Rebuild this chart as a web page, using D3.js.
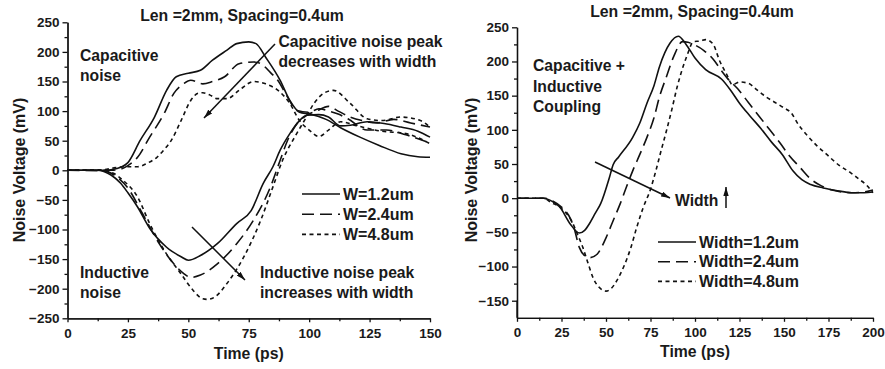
<!DOCTYPE html>
<html><head><meta charset="utf-8">
<script src="https://cdn.jsdelivr.net/npm/d3@7"></script>
<style>
body{margin:0;background:#fff;}
svg text{font-family:"Liberation Sans",Arial,sans-serif;font-weight:bold;fill:#1a1a1a;}
</style></head><body>
<svg id="c" width="885" height="369"></svg>
<script>
// ---------- Left chart data (Time ps, Noise mV) ----------
const leftXTicks = [0,25,50,75,100,125,150];
const leftYTicks = [-250,-200,-150,-100,-50,0,50,100,150,200,250];
const leftLegend = ["W=1.2um","W=2.4um","W=4.8um"];

const capW12_t = [0,15,18,22,25,30,36,41,45,50,55,60,66,70,75,78,82,88,92,96,100,107,113,121,129,138,145,150];
const capW12_v = [0,0,1,5,13,50,90,135,158,164,169,186,203,214,217,214,191,152,118,98,95,86,72,56,42,28,23,22];
const indW12_t = [0,12,15,18,22,25,29,34,41,47,50,55,62,70,76,81,85,88,92,96,99,104,108,113,117,124,131,138,145,150];
const indW12_v = [0,0,-2,-8,-22,-38,-62,-98,-130,-146,-152,-144,-124,-90,-68,-22,6,34,62,84,93,94,90,75,76,82,79,73,66,56];

const capW24_t = [0,18,22,25,29,34,40,44,48,51,56,60,65,71,77,80,84,87,91,95,100,104,108,112,116,124,132,140,150];
const capW24_v = [0,0,2,8,22,56,96,130,146,152,146,150,158,180,183,180,165,152,124,101,98,104,100,95,87,68,68,60,46];
const indW24_t = [0,15,20,25,31,38,44,48,51,55,62,70,77,84,88,91,95,99,103,108,112,117,122,128,135,142,150];
const indW24_v = [0,-1,-10,-30,-73,-124,-158,-174,-181,-177,-158,-124,-84,-28,17,50,79,93,100,108,100,90,84,80,86,80,73];

const capW48_t = [0,15,19,24,29,33,37,40,43,47,51,54,56,59,62,66,71,77,82,88,92,96,100,104,108,113,120,130,140,150];
const capW48_v = [0,1,4,6,6,12,22,35,51,84,118,130,131,127,121,121,135,150,146,132,113,84,68,57,68,82,75,66,62,45];
const indW48_t = [0,15,19,23,29,34,40,47,52,56,58,61,66,73,80,85,89,94,98,102,106,110,117,124,130,138,146,150];
const indW48_v = [0,0,-5,-17,-45,-90,-135,-175,-203,-217,-218,-214,-191,-146,-84,-28,17,56,84,113,130,135,113,87,84,90,84,73];

// ---------- Right chart data ----------
const rightXTicks = [0,25,50,75,100,125,150,175,200];
const rightYTicks = [-150,-100,-50,0,50,100,150,200,250];
const rightLegend = ["Width=1.2um","Width=2.4um","Width=4.8um"];

const cW12_t = [0,15,20,24,30,35,38,41,44,47,52,54,57,65,69,73,77,80,86,90.6,95,100,106,115,120,125,131,137,143,149,155,160,165,172,180,188,195,200];
const cW12_v = [0,0,-5,-13,-38,-51,-47,-36,-22,-8,31,49,60,89,110,139,165,192,227,237,225,205,188,174,158,139,120,102,82,64,40,27,20,15,11,8,8,9];
const cW24_t = [0,15,20,25,30,32,35,38,41,45,50,54,58,62,65,69,73,77,80,84,88,93,96,100,105,110,115,118,124,130,136,142,148,153,159,165,171,177,183,190,197,200];
const cW24_v = [0,0,-4,-13,-30,-43,-72,-84,-87,-82,-58,-33,-8,20,40,64,89,118,148,178,207,229,228,224,216,204,186,176,160,140,120,100,80,62,45,28,18,12,9,8,10,12];
const cW48_t = [0,15,19,24,28,31,34,37,40,43,46,50,53,56,60,64,67,71,75,78,81,84,87,90,93,96,99,103,106,110,114,118,121,125,130,135,140,145,150,154,158,163,168,174,181,187,192,196,200];
const cW48_v = [0,0,-6,-13,-23,-35,-53,-72,-96,-118,-130,-136,-132,-121,-100,-72,-45,-13,13,40,70,99,130,163,190,212,229,230,232,226,200,180,166,170,168,158,148,140,132,125,108,92,78,64,48,38,28,20,8];

const titleText = "Len =2mm, Spacing=0.4um";
const dashStyles = [null, "12,6", "4,3.5"];

const svg = d3.select('#c');
const defs = svg.append('defs');
defs.append('marker').attr('id','ah').attr('viewBox','0 0 10 6')
  .attr('refX',10).attr('refY',3).attr('markerWidth',9).attr('markerHeight',5.5)
  .attr('markerUnits','userSpaceOnUse').attr('orient','auto')
  .append('path').attr('d','M0,0 L10,3 L0,6 Z').attr('fill','#111');

function zipPts(t,v){ return t.map((d,i)=>[d,v[i]]); }

function panel(o){
  const g = svg.append('g');
  const x = d3.scaleLinear().domain(o.xd).range([o.left,o.right]);
  const y = d3.scaleLinear().domain(o.yd).range([o.bottom,o.top]);
  const xMinor = o.xTicks.slice(0,-1).map((d,i)=>(d+o.xTicks[i+1])/2);
  const yMinor = o.yTicks.slice(0,-1).map((d,i)=>(d+o.yTicks[i+1])/2);
  g.append('g').attr('transform',`translate(0,${o.bottom})`)
    .call(d3.axisBottom(x).tickValues(xMinor).tickSize(3).tickSizeOuter(0).tickFormat(''));
  g.append('g').attr('transform',`translate(${o.left},0)`)
    .call(d3.axisLeft(y).tickValues(yMinor).tickSize(3).tickSizeOuter(0).tickFormat(''));
  g.append('g').attr('transform',`translate(0,${o.bottom})`)
    .call(d3.axisBottom(x).tickValues(o.xTicks).tickSize(4).tickSizeOuter(0).tickPadding(6).tickFormat(d3.format('d')));
  g.append('g').attr('transform',`translate(${o.left},0)`)
    .call(d3.axisLeft(y).tickValues(o.yTicks).tickSize(5).tickSizeOuter(0).tickPadding(3).tickFormat(d3.format('d')));
  g.selectAll('.domain, .tick line').attr('stroke','#111').attr('stroke-width',1.3);
  g.selectAll('.tick text').style('font-size','13.5px');
  if (o.yd[0] < o.yTicks[0]) {
    g.append('line').attr('x1',o.left).attr('x2',o.left).attr('y1',y(o.yTicks[0])).attr('y2',o.bottom)
      .attr('stroke','#111').attr('stroke-width',1.3);
  }
  const line = d3.line().x(d=>x(d[0])).y(d=>y(d[1])).curve(d3.curveMonotoneX);
  o.series.forEach(s=>{
    g.append('path').datum(zipPts(s.t,s.v)).attr('d',line)
      .attr('fill','none').attr('stroke','#111').attr('stroke-width',1.6)
      .attr('stroke-dasharray',dashStyles[s.style]);
  });
  o.legend.forEach((lab,i)=>{
    const ly = o.legY + i*o.legDy;
    g.append('line').attr('x1',o.legX).attr('x2',o.legX+38).attr('y1',ly).attr('y2',ly)
      .attr('stroke','#111').attr('stroke-width',1.6).attr('stroke-dasharray',dashStyles[i]);
    g.append('text').attr('x',o.legX+41).attr('y',ly+5.5).style('font-size','16px').text(lab);
  });
  g.append('text').attr('x',o.titleX).attr('y',o.titleY).attr('text-anchor','middle')
    .style('font-size','15.8px').text(titleText);
  g.append('text').attr('x',(o.left+o.right)/2).attr('y',o.xlabY).attr('text-anchor','middle')
    .style('font-size','15.8px').text('Time (ps)');
  g.append('text').attr('transform',`translate(${o.ylabX},${o.ylabY}) rotate(-90)`).attr('text-anchor','middle')
    .style('font-size','16px').text('Noise Voltage (mV)');
  return {g,x,y};
}

panel({
  left:67.5, right:430, top:22.3, bottom:318.3, xd:[0,150], yd:[-250,250],
  xTicks:leftXTicks, yTicks:leftYTicks,
  series:[
    {t:capW12_t,v:capW12_v,style:0},{t:indW12_t,v:indW12_v,style:0},
    {t:capW24_t,v:capW24_v,style:1},{t:indW24_t,v:indW24_v,style:1},
    {t:capW48_t,v:capW48_v,style:2},{t:indW48_t,v:indW48_v,style:2}
  ],
  legend:leftLegend, legX:302, legY:194, legDy:20.2,
  titleX:242, titleY:21, xlabY:359, ylabX:25, ylabY:170
});

panel({
  left:517, right:873, top:27.3, bottom:317.8, xd:[0,200], yd:[-175,250],
  xTicks:rightXTicks, yTicks:rightYTicks,
  series:[
    {t:cW12_t,v:cW12_v,style:0},{t:cW24_t,v:cW24_v,style:1},{t:cW48_t,v:cW48_v,style:2}
  ],
  legend:rightLegend, legX:658, legY:242, legDy:19.7,
  titleX:692, titleY:17, xlabY:357, ylabX:477, ylabY:170
});

function txt(x,y,s,size){ svg.append('text').attr('x',x).attr('y',y).style('font-size',(size||15.7)+'px').text(s); }
function arrow(x1,y1,x2,y2){
  svg.append('line').attr('x1',x1).attr('y1',y1).attr('x2',x2).attr('y2',y2)
    .attr('stroke','#111').attr('stroke-width',1.5).attr('marker-end','url(#ah)');
}
txt(80,60.5,"Capacitive"); txt(80,80.5,"noise");
txt(278.5,46.5,"Capacitive noise peak"); txt(278.5,66.5,"decreases with width");
txt(80,278,"Inductive"); txt(80,298,"noise");
txt(260,278,"Inductive noise peak"); txt(260,298,"increases with width");
arrow(275,44,204,118);
arrow(192,227,245,280);

txt(533,70.5,"Capacitive +"); txt(533,91.5,"Inductive"); txt(533,111.5,"Coupling");
txt(675,206,"Width");
arrow(595,162,670,198);
arrow(726,208,726,187);
</script>
</body></html>
